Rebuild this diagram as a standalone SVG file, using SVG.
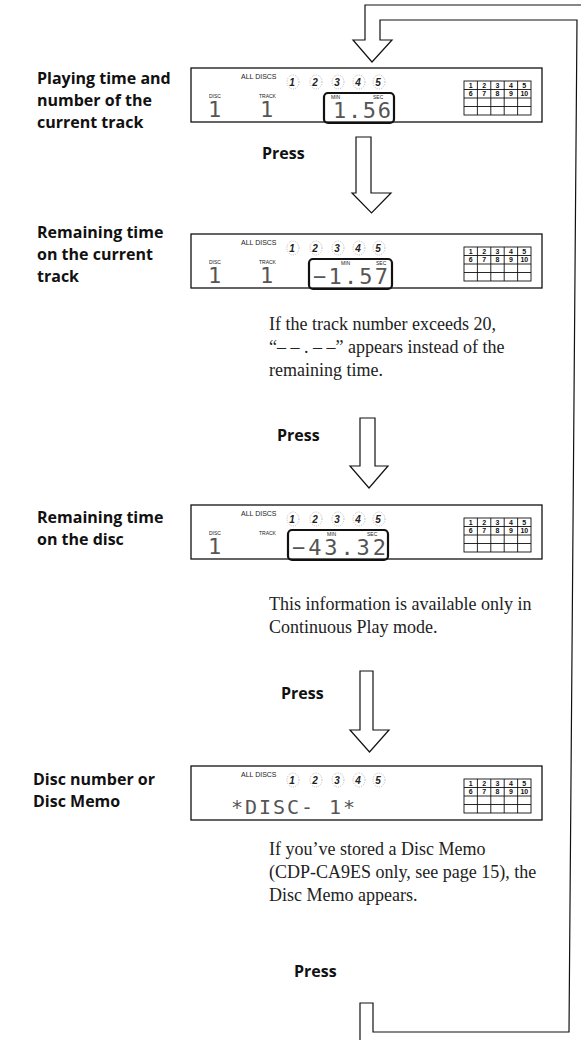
<svg xmlns="http://www.w3.org/2000/svg" xmlns:xlink="http://www.w3.org/1999/xlink" width="581" height="1040" viewBox="0 0 581 1040">
<style>
.lbl{font-family:"Open Sans","Noto Sans",sans-serif;font-weight:700;font-size:16px;fill:#111}
.press{font-family:"Open Sans","Noto Sans",sans-serif;font-weight:700;font-size:16px;fill:#111}
.body{font-family:"Liberation Serif","Times New Roman",serif;font-size:18px;fill:#222}
.box{fill:#fff;stroke:#111;stroke-width:1.3}
.tbox{fill:none;stroke:#111;stroke-width:2.2}
.tiny{font-family:"Liberation Sans",Arial,sans-serif;font-size:5px;fill:#222}
.all{font-family:"Liberation Sans",Arial,sans-serif;font-size:7px;fill:#222}
.cd{font-family:"Liberation Sans",Arial,sans-serif;font-size:10px;font-weight:bold;font-style:italic;fill:#222;text-anchor:middle}
.circ{fill:none;stroke:#999;stroke-width:0.7;stroke-dasharray:1 1.3}
.grid{fill:none;stroke:#111;stroke-width:0.9}
.gn{font-family:"Liberation Sans",Arial,sans-serif;font-size:7px;font-weight:bold;fill:#111;text-anchor:middle}
.seg{font-family:"DejaVu Sans Mono","Liberation Mono",monospace;font-size:22px;fill:#555}
.seg4{font-family:"DejaVu Sans Mono","Liberation Mono",monospace;font-size:20px;fill:#555}
.arrow{fill:#fff;stroke:#111;stroke-width:1.2;stroke-linejoin:miter}
.loop{fill:none;stroke:#111;stroke-width:1.2}
</style>
<defs>
<g id="dispBase">
<rect class="box" x="0" y="0" width="351" height="54"/>
<text class="all" x="50" y="10.5">ALL DISCS</text>
<ellipse class="circ" cx="102" cy="14" rx="6" ry="7"/>
<ellipse class="circ" cx="125" cy="14" rx="6" ry="7"/>
<ellipse class="circ" cx="147" cy="14" rx="6" ry="7"/>
<ellipse class="circ" cx="168" cy="14" rx="6" ry="7"/>
<ellipse class="circ" cx="188" cy="14" rx="6" ry="7"/>
<text class="cd" x="101" y="17.5">1</text>
<text class="cd" x="124" y="17.5">2</text>
<text class="cd" x="146" y="17.5">3</text>
<text class="cd" x="167" y="17.5">4</text>
<text class="cd" x="187" y="17.5">5</text>
<g class="grid">
<rect x="273" y="13" width="67" height="34"/>
<path d="M286.4,13V47M299.8,13V47M313.2,13V47M326.6,13V47M273,21.5H340M273,30H340M273,38.5H340"/>
</g>
<text class="gn" x="279.7" y="19.8">1</text>
<text class="gn" x="293.1" y="19.8">2</text>
<text class="gn" x="306.5" y="19.8">3</text>
<text class="gn" x="319.9" y="19.8">4</text>
<text class="gn" x="333.3" y="19.8">5</text>
<text class="gn" x="279.7" y="28.3">6</text>
<text class="gn" x="293.1" y="28.3">7</text>
<text class="gn" x="306.5" y="28.3">8</text>
<text class="gn" x="319.9" y="28.3">9</text>
<text class="gn" x="333.3" y="28.3">10</text>
</g>
</defs>

<g id="connectors">
<path class="loop" d="M581,5H365V40H353L372,62L392,40H380V20H577L569,1032H373V1003H360V1040"/>
<path class="arrow" d="M356,137H371V193H391L371.5,213L352,193H356Z"/>
<path class="arrow" d="M360,418H375V466H388L369,488L350,466H360Z"/>
<path class="arrow" d="M360,671H373V730H389L369.5,752L350,730H360Z"/>
</g>

<g id="node1">
<text class="lbl" x="37" y="84">Playing time and</text>
<text class="lbl" x="37" y="106">number of the</text>
<text class="lbl" x="37" y="128">current track</text>
<g transform="translate(191,68)">
<use xlink:href="#dispBase"/>
<text class="tiny" x="18" y="30">DISC</text>
<text class="tiny" x="68" y="30">TRACK</text>
<text class="seg" x="17" y="49">1</text>
<text class="seg" x="69" y="49">1</text>
<rect class="tbox" x="133" y="25" width="70" height="30" rx="4"/>
<text class="tiny" x="140" y="31">MIN</text>
<text class="tiny" x="182" y="31">SEC</text>
<text class="seg" x="142" y="50" textLength="58" lengthAdjust="spacing">1.56</text>
</g>
</g>

<g id="press1"><text class="press" x="262" y="159">Press</text></g>

<g id="node2">
<text class="lbl" x="37" y="238">Remaining time</text>
<text class="lbl" x="37" y="260">on the current</text>
<text class="lbl" x="37" y="282">track</text>
<g transform="translate(191,234)">
<use xlink:href="#dispBase"/>
<text class="tiny" x="18" y="30">DISC</text>
<text class="tiny" x="68" y="30">TRACK</text>
<text class="seg" x="17" y="49">1</text>
<text class="seg" x="69" y="49">1</text>
<rect class="tbox" x="118" y="25" width="83" height="30" rx="4"/>
<text class="tiny" x="150" y="31">MIN</text>
<text class="tiny" x="185" y="31">SEC</text>
<text class="seg" x="122" y="50" textLength="75" lengthAdjust="spacing">−1.57</text>
</g>
<text class="body" x="269" y="330">If the track number exceeds 20,</text>
<text class="body" x="269" y="353">“– – . – –” appears instead of the</text>
<text class="body" x="269" y="376">remaining time.</text>
</g>

<g id="press2"><text class="press" x="277" y="441">Press</text></g>

<g id="node3">
<text class="lbl" x="37" y="523">Remaining time</text>
<text class="lbl" x="37" y="545">on the disc</text>
<g transform="translate(191,505)">
<use xlink:href="#dispBase"/>
<text class="tiny" x="18" y="30">DISC</text>
<text class="tiny" x="68" y="30">TRACK</text>
<text class="seg" x="17" y="49">1</text>
<rect class="tbox" x="97" y="25" width="100" height="30" rx="4"/>
<text class="tiny" x="136" y="31">MIN</text>
<text class="tiny" x="176" y="31">SEC</text>
<text class="seg" x="101" y="50" textLength="94" lengthAdjust="spacing">−43.32</text>
</g>
<text class="body" x="269" y="610">This information is available only in</text>
<text class="body" x="269" y="633">Continuous Play mode.</text>
</g>

<g id="press3"><text class="press" x="281" y="699">Press</text></g>

<g id="node4">
<text class="lbl" x="33" y="785">Disc number or</text>
<text class="lbl" x="33" y="807">Disc Memo</text>
<g transform="translate(191,766)">
<use xlink:href="#dispBase"/>
<text class="seg4" x="40" y="48" textLength="124" lengthAdjust="spacing">*DISC- 1*</text>
</g>
<text class="body" x="269" y="855">If you’ve stored a Disc Memo</text>
<text class="body" x="269" y="878">(CDP-CA9ES only, see page 15), the</text>
<text class="body" x="269" y="901">Disc Memo appears.</text>
</g>

<g id="press4"><text class="press" x="294" y="977">Press</text></g>
</svg>
